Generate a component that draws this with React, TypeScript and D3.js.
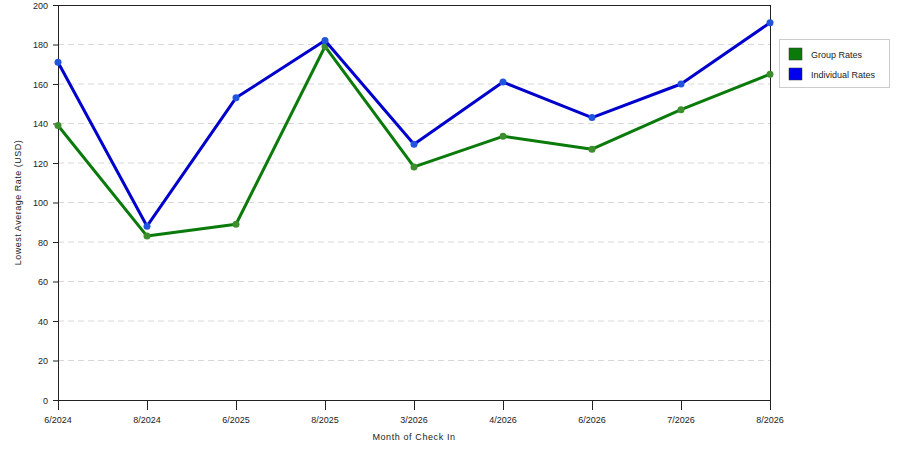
import * as d3 from "d3";
import * as React from "react";

const months = ["6/2024", "8/2024", "6/2025", "8/2025", "3/2026", "4/2026", "6/2026", "7/2026", "8/2026"];
const groupRates = [139, 83, 89, 179, 118, 133.5, 127, 147, 165];
const individualRates = [171, 88, 153, 182, 129.5, 161, 143, 160, 191];
const yTicks = [0, 20, 40, 60, 80, 100, 120, 140, 160, 180, 200];

const series = [
  { name: "Group Rates", values: groupRates, color: "#0a7a0a", dot: "#3c8f2c", swatch: "#0b7a0b" },
  { name: "Individual Rates", values: individualRates, color: "#0000cc", dot: "#2255dd", swatch: "#0000ee" },
];

export default function App() {
  const width = 900;
  const height = 450;
  const left = 58, right = 770, top = 5, bottom = 400;
  const font = "'Liberation Sans', Arial, sans-serif";

  const x = d3.scalePoint<string>().domain(months).range([left, right]);
  const y = d3.scaleLinear().domain([0, 200]).range([bottom, top]);

  return (
    <svg width={width} height={height} style={{ position: "absolute", left: 0, top: 0 }}>
      <rect x={0} y={0} width={width} height={height} fill="#fff" />
      {/* grid */}
      {yTicks.filter((t) => t > 0 && t < 200).map((t) => (
        <line key={"g" + t} x1={left} x2={right} y1={y(t)} y2={y(t)} stroke="#d8d8d8" strokeDasharray="6,4" />
      ))}
      {/* frame */}
      <line x1={left} x2={right} y1={top + 0.5} y2={top + 0.5} stroke="#222" />
      <line x1={right + 0.5} x2={right + 0.5} y1={top} y2={bottom} stroke="#222" />
      <line x1={left + 0.5} x2={left + 0.5} y1={top} y2={bottom + 10} stroke="#222" />
      <line x1={left} x2={right} y1={bottom + 0.5} y2={bottom + 0.5} stroke="#222" />
      {/* y ticks */}
      {yTicks.map((t) => (
        <g key={"y" + t}>
          <line x1={left - 5} x2={left} y1={y(t) + 0.5} y2={y(t) + 0.5} stroke="#222" />
          <text x={left - 10} y={y(t) + 3.5} textAnchor="end" fontFamily={font} fontSize={9} fill="#222">{t}</text>
        </g>
      ))}
      {/* x ticks */}
      {months.map((m) => (
        <g key={"x" + m}>
          <line x1={x(m)! + 0.5} x2={x(m)! + 0.5} y1={bottom} y2={bottom + 10} stroke="#222" />
          <text x={x(m)!} y={bottom + 23} textAnchor="middle" fontFamily={font} fontSize={9} fill="#222">{m}</text>
        </g>
      ))}
      <text x={414} y={440} textAnchor="middle" fontFamily={font} fontSize={9} letterSpacing={0.6} fill="#222">Month of Check In</text>
      <text transform={`translate(21,${(top + bottom) / 2}) rotate(-90)`} textAnchor="middle" fontFamily={font} fontSize={9} letterSpacing={0.5} fill="#222">Lowest Average Rate (USD)</text>
      {/* series */}
      {series.map((s) => {
        const line = d3.line<number>().x((_, i) => x(months[i])!).y((d) => y(d));
        return (
          <g key={s.name}>
            <path d={line(s.values)!} fill="none" stroke={s.color} strokeWidth={3} strokeLinejoin="round" />
            {s.values.map((v, i) => (
              <circle key={i} cx={x(months[i])!} cy={y(v)} r={3.5} fill={s.dot} />
            ))}
          </g>
        );
      })}
      {/* legend */}
      <rect x={779.5} y={39.5} width={110} height={48} fill="#fff" stroke="#ccc" />
      {series.map((s, i) => (
        <g key={"l" + s.name}>
          <rect x={789} y={48 + i * 20} width={13} height={12} fill={s.swatch} stroke="#333" strokeWidth={0.5} />
          <text x={811} y={58 + i * 20} fontFamily={font} fontSize={9} fill="#222">{s.name}</text>
        </g>
      ))}
    </svg>
  );
}
